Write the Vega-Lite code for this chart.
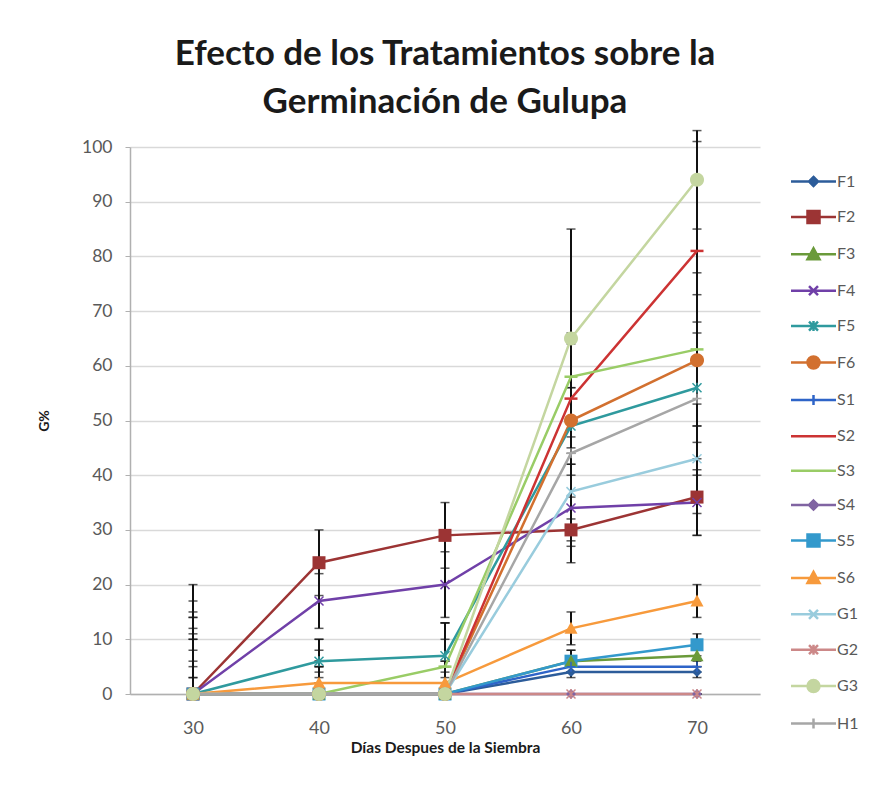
{
  "$schema": "https://vega.github.io/schema/vega-lite/v6.json",
  "width": 630,
  "height": 547,
  "autosize": {"type": "none"},
  "padding": {"left": 130, "top": 147, "right": 112, "bottom": 105},
  "background": "white",
  "title": {
    "text": ["Efecto de los Tratamientos sobre la", "Germinación de Gulupa"],
    "font": "Lato",
    "fontSize": 35,
    "fontWeight": "bold",
    "color": "#1a1a1a",
    "lineHeight": 48,
    "anchor": "middle",
    "offset": 10
  },
  "config": {
    "view": {"stroke": null},
    "font": "Lato",
    "axis": {"labelFont": "Lato", "titleFont": "Lato"},
    "legend": {"labelFont": "Lato"}
  },
  "data": {
    "values": [
      {"s": "F1", "d": 30, "g": 0, "lo": 0, "hi": 3},
      {"s": "F1", "d": 40, "g": 0, "lo": 0, "hi": 2},
      {"s": "F1", "d": 50, "g": 0, "lo": 0, "hi": 2},
      {"s": "F1", "d": 60, "g": 4, "lo": 3, "hi": 5},
      {"s": "F1", "d": 70, "g": 4, "lo": 3, "hi": 5},
      {"s": "F2", "d": 30, "g": 0, "lo": 0, "hi": 20},
      {"s": "F2", "d": 40, "g": 24, "lo": 18, "hi": 30},
      {"s": "F2", "d": 50, "g": 29, "lo": 23, "hi": 35},
      {"s": "F2", "d": 60, "g": 30, "lo": 24, "hi": 36},
      {"s": "F2", "d": 70, "g": 36, "lo": 29, "hi": 43},
      {"s": "F3", "d": 30, "g": 0, "lo": 0, "hi": 10},
      {"s": "F3", "d": 40, "g": 0, "lo": 0, "hi": 4},
      {"s": "F3", "d": 50, "g": 0, "lo": 0, "hi": 4},
      {"s": "F3", "d": 60, "g": 6, "lo": 4, "hi": 8},
      {"s": "F3", "d": 70, "g": 7, "lo": 5, "hi": 9},
      {"s": "F4", "d": 30, "g": 0, "lo": 0, "hi": 17},
      {"s": "F4", "d": 40, "g": 17, "lo": 12, "hi": 22},
      {"s": "F4", "d": 50, "g": 20, "lo": 14, "hi": 26},
      {"s": "F4", "d": 60, "g": 34, "lo": 28, "hi": 40},
      {"s": "F4", "d": 70, "g": 35, "lo": 29, "hi": 41},
      {"s": "F5", "d": 30, "g": 0, "lo": 0, "hi": 14},
      {"s": "F5", "d": 40, "g": 6, "lo": 2, "hi": 10},
      {"s": "F5", "d": 50, "g": 7, "lo": 1, "hi": 13},
      {"s": "F5", "d": 60, "g": 49, "lo": 42, "hi": 56},
      {"s": "F5", "d": 70, "g": 56, "lo": 46, "hi": 66},
      {"s": "F6", "d": 30, "g": 0, "lo": 0, "hi": 12},
      {"s": "F6", "d": 40, "g": 0, "lo": 0, "hi": 5},
      {"s": "F6", "d": 50, "g": 0, "lo": 0, "hi": 6},
      {"s": "F6", "d": 60, "g": 50, "lo": 42, "hi": 58},
      {"s": "F6", "d": 70, "g": 61, "lo": 49, "hi": 73},
      {"s": "S1", "d": 30, "g": 0, "lo": 0, "hi": 6},
      {"s": "S1", "d": 40, "g": 0, "lo": 0, "hi": 3},
      {"s": "S1", "d": 50, "g": 0, "lo": 0, "hi": 3},
      {"s": "S1", "d": 60, "g": 5, "lo": 4, "hi": 6},
      {"s": "S1", "d": 70, "g": 5, "lo": 4, "hi": 6},
      {"s": "S2", "d": 30, "g": 0, "lo": 0, "hi": 15},
      {"s": "S2", "d": 40, "g": 0, "lo": 0, "hi": 8},
      {"s": "S2", "d": 50, "g": 0, "lo": 0, "hi": 10},
      {"s": "S2", "d": 60, "g": 54, "lo": 44, "hi": 64},
      {"s": "S2", "d": 70, "g": 81, "lo": 61, "hi": 101},
      {"s": "S3", "d": 30, "g": 0, "lo": 0, "hi": 10},
      {"s": "S3", "d": 40, "g": 0, "lo": 0, "hi": 6},
      {"s": "S3", "d": 50, "g": 5, "lo": 0, "hi": 13},
      {"s": "S3", "d": 60, "g": 58, "lo": 50, "hi": 66},
      {"s": "S3", "d": 70, "g": 63, "lo": 49, "hi": 77},
      {"s": "S4", "d": 30, "g": 0, "lo": 0, "hi": 0},
      {"s": "S4", "d": 40, "g": 0, "lo": 0, "hi": 0},
      {"s": "S4", "d": 50, "g": 0, "lo": 0, "hi": 0},
      {"s": "S4", "d": 60, "g": 0, "lo": 0, "hi": 0},
      {"s": "S4", "d": 70, "g": 0, "lo": 0, "hi": 0},
      {"s": "S5", "d": 30, "g": 0, "lo": 0, "hi": 3},
      {"s": "S5", "d": 40, "g": 0, "lo": 0, "hi": 2},
      {"s": "S5", "d": 50, "g": 0, "lo": 0, "hi": 2},
      {"s": "S5", "d": 60, "g": 6, "lo": 4, "hi": 8},
      {"s": "S5", "d": 70, "g": 9, "lo": 7, "hi": 11},
      {"s": "S6", "d": 30, "g": 0, "lo": 0, "hi": 5},
      {"s": "S6", "d": 40, "g": 2, "lo": 0, "hi": 5},
      {"s": "S6", "d": 50, "g": 2, "lo": 0, "hi": 5},
      {"s": "S6", "d": 60, "g": 12, "lo": 9, "hi": 15},
      {"s": "S6", "d": 70, "g": 17, "lo": 14, "hi": 20},
      {"s": "G1", "d": 30, "g": 0, "lo": 0, "hi": 8},
      {"s": "G1", "d": 40, "g": 0, "lo": 0, "hi": 6},
      {"s": "G1", "d": 50, "g": 0, "lo": 0, "hi": 6},
      {"s": "G1", "d": 60, "g": 37, "lo": 27, "hi": 47},
      {"s": "G1", "d": 70, "g": 43, "lo": 33, "hi": 53},
      {"s": "G2", "d": 30, "g": 0, "lo": 0, "hi": 0},
      {"s": "G2", "d": 40, "g": 0, "lo": 0, "hi": 0},
      {"s": "G2", "d": 50, "g": 0, "lo": 0, "hi": 0},
      {"s": "G2", "d": 60, "g": 0, "lo": 0, "hi": 0},
      {"s": "G2", "d": 70, "g": 0, "lo": 0, "hi": 0},
      {"s": "G3", "d": 30, "g": 0, "lo": 0, "hi": 14},
      {"s": "G3", "d": 40, "g": 0, "lo": 0, "hi": 10},
      {"s": "G3", "d": 50, "g": 0, "lo": 0, "hi": 13},
      {"s": "G3", "d": 60, "g": 65, "lo": 45, "hi": 85},
      {"s": "G3", "d": 70, "g": 94, "lo": 85, "hi": 103},
      {"s": "H1", "d": 30, "g": 0, "lo": 0, "hi": 11},
      {"s": "H1", "d": 40, "g": 0, "lo": 0, "hi": 5},
      {"s": "H1", "d": 50, "g": 0, "lo": 0, "hi": 5},
      {"s": "H1", "d": 60, "g": 44, "lo": 32, "hi": 56},
      {"s": "H1", "d": 70, "g": 54, "lo": 40, "hi": 68}
    ]
  },
  "encoding": {
    "x": {
      "field": "d",
      "type": "ordinal",
      "scale": {"type": "point", "padding": 0.5},
      "axis": {
        "title": "Días Despues de la Siembra",
        "labelAngle": 0,
        "labelFontSize": 18,
        "labelColor": "#595959",
        "labelPadding": 25,
        "ticks": false,
        "domainColor": "#B0B0B0",
        "domainWidth": 1.5,
        "titleFontSize": 15.5,
        "titleFontWeight": "bold",
        "titleColor": "#1a1a1a",
        "titlePadding": 3
      }
    },
    "y": {
      "field": "g",
      "type": "quantitative",
      "scale": {"domain": [0, 100]},
      "title": "G%",
      "axis": {
        "title": "G%",
        "values": [0, 10, 20, 30, 40, 50, 60, 70, 80, 90, 100],
        "grid": true,
        "gridColor": "#D9D9D9",
        "gridWidth": 1.5,
        "domainColor": "#B0B0B0",
        "domainWidth": 1.5,
        "tickColor": "#B0B0B0",
        "tickSize": 5,
        "labelFontSize": 17.5,
        "labelColor": "#595959",
        "labelPadding": 13,
        "titleFontSize": 14,
        "titleFontWeight": "bold",
        "titleColor": "#1a1a1a",
        "titlePadding": 30
      }
    },
    "color": {
      "field": "s",
      "type": "nominal",
      "sort": null,
      "scale": {
        "domain": ["F1","F2","F3","F4","F5","F6","S1","S2","S3","S4","S5","S6","G1","G2","G3","H1"],
        "range": ["#2C5C9A","#9C3434","#6A9A3A","#7040A8","#2F9A9E","#D2702F","#2E64C8","#CC3333","#99CC66","#8064A2","#3399CC","#F79A3C","#99CCDD","#CC8888","#C4D6A0","#A6A6A6"]
      },
      "legend": {
        "title": null,
        "orient": "none",
        "legendX": 672,
        "legendY": 23,
        "padding": 0,
        "symbolSize": 400,
        "rowPadding": 14.4,
        "labelOffset": 12,
        "labelFontSize": 16,
        "labelColor": "#595959",
        "symbolStrokeWidth": 2.5,
        "encode": {
          "symbols": {
            "update": {
              "shape": {"signal": "{'F1':'M-2.25,0H2.25M0,-0.45L0.45,0L0,0.45L-0.45,0Z','F2':'M-2.25,0H2.25M-0.6,-0.6H0.6V0.6H-0.6Z','F3':'M-2.25,0H2.25M0,-0.6L0.6,0.5H-0.6Z','F4':'M-2.25,0H2.25M-0.45,-0.45L0.45,0.45M-0.45,0.45L0.45,-0.45','F5':'M-2.25,0H2.25M-0.45,-0.45L0.45,0.45M-0.45,0.45L0.45,-0.45M0,-0.5V0.5','F6':'M-2.25,0H2.25M0.6,0A0.6,0.6,0,1,1,-0.6,0A0.6,0.6,0,1,1,0.6,0Z','S1':'M-2.25,0H2.25M0,-0.5V0.5','S2':'M-2.25,0H2.25','S3':'M-2.25,0H2.25','S4':'M-2.25,0H2.25M0,-0.45L0.45,0L0,0.45L-0.45,0Z','S5':'M-2.25,0H2.25M-0.6,-0.6H0.6V0.6H-0.6Z','S6':'M-2.25,0H2.25M0,-0.6L0.6,0.5H-0.6Z','G1':'M-2.25,0H2.25M-0.45,-0.45L0.45,0.45M-0.45,0.45L0.45,-0.45','G2':'M-2.25,0H2.25M-0.45,-0.45L0.45,0.45M-0.45,0.45L0.45,-0.45M0,-0.5V0.5','G3':'M-2.25,0H2.25M0.6,0A0.6,0.6,0,1,1,-0.6,0A0.6,0.6,0,1,1,0.6,0Z','H1':'M-2.25,0H2.25M0,-0.5V0.5'}[datum.value]"},
              "fill": {"signal": "scale('color', datum.value)"},
              "stroke": {"signal": "scale('color', datum.value)"},
              "strokeWidth": {"value": 2.5},
              "size": {"value": 400},
              "opacity": {"value": 1}
            }
          }
        }
      }
    }
  },
  "layer": [
    {
      "mark": {"type": "errorbar", "thickness": 2, "ticks": {"size": 9, "thickness": 1.5}},
      "encoding": {
        "y": {"field": "lo", "type": "quantitative", "scale": {"domain": [0, 100]}, "title": "G%"},
        "y2": {"field": "hi"},
        "color": {"value": "#111111"}
      }
    },
    {
      "mark": {"type": "line", "strokeWidth": 2.5},
      "encoding": {}
    },
    {
      "transform": [{"filter": {"field": "s", "oneOf": ["F1", "S4"]}}],
      "mark": {"type": "point", "shape": "M0,-1L1,0L0,1L-1,0Z", "filled": true, "opacity": 1, "size": 100},
      "encoding": {}
    },
    {
      "transform": [{"filter": {"field": "s", "oneOf": ["F2", "S5"]}}],
      "mark": {"type": "point", "shape": "M-1.3,-1.3H1.3V1.3H-1.3Z", "filled": true, "opacity": 1, "size": 100},
      "encoding": {}
    },
    {
      "transform": [{"filter": {"field": "s", "oneOf": ["F3", "S6"]}}],
      "mark": {"type": "point", "shape": "M0,-1.3L1.3,1.1H-1.3Z", "filled": true, "opacity": 1, "size": 100},
      "encoding": {}
    },
    {
      "transform": [{"filter": {"field": "s", "oneOf": ["F4", "G1"]}}],
      "mark": {"type": "point", "shape": "M-0.9,-0.9L0.9,0.9M-0.9,0.9L0.9,-0.9", "filled": false, "opacity": 1, "size": 100, "strokeWidth": 1.5},
      "encoding": {}
    },
    {
      "transform": [{"filter": {"field": "s", "oneOf": ["F5", "G2"]}}],
      "mark": {"type": "point", "shape": "M-0.9,-0.9L0.9,0.9M-0.9,0.9L0.9,-0.9M0,-1V1", "filled": false, "opacity": 1, "size": 100, "strokeWidth": 1.5},
      "encoding": {}
    },
    {
      "transform": [{"filter": {"field": "s", "oneOf": ["S1", "H1"]}}],
      "mark": {"type": "point", "shape": "M-0.9,0H0.9M0,-1V1", "filled": false, "opacity": 1, "size": 100, "strokeWidth": 1.5},
      "encoding": {}
    },
    {
      "transform": [{"filter": {"field": "s", "oneOf": ["S2", "S3"]}}],
      "mark": {"type": "point", "shape": "M-1.3,0H1.3", "filled": false, "opacity": 1, "size": 100, "strokeWidth": 2.5},
      "encoding": {}
    },
    {
      "transform": [{"filter": {"field": "s", "oneOf": ["F6", "G3"]}}],
      "mark": {"type": "point", "shape": "M1.4,0A1.4,1.4,0,1,1,-1.4,0A1.4,1.4,0,1,1,1.4,0Z", "filled": true, "opacity": 1, "size": 100},
      "encoding": {}
    }
  ]
}
